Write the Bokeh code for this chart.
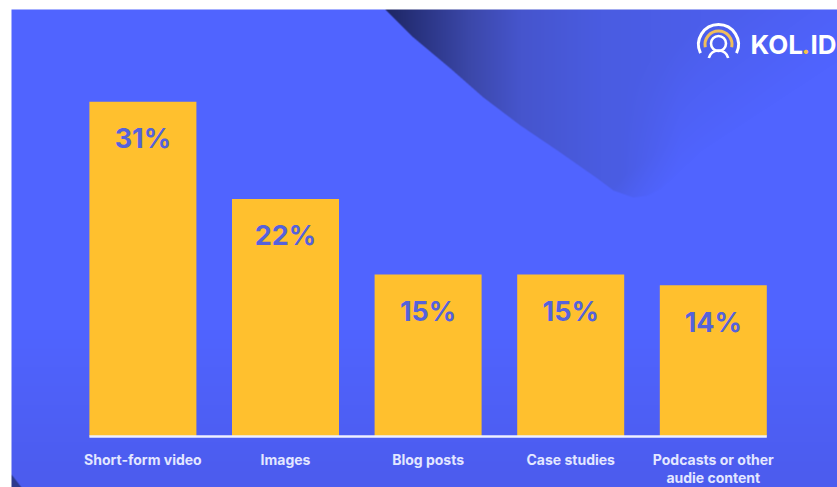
import numpy as np
from bokeh.core.properties import value
from bokeh.embed import file_html
from bokeh.models import ColumnDataSource, Range1d
from bokeh.plotting import figure
from bokeh.resources import INLINE

categories = ["Short-form video", "Images", "Blog posts", "Case studies", "Podcasts or other\naudie content"]
shares = [31, 22, 15, 15, 14]
share_labels = ["31%", "22%", "15%", "15%", "14%"]

W, H = 837, 487
BAR_BLUE = (80, 100, 255)
YELLOW = "#FFC02E"
LABEL = "#E3E7FF"
VALUE_TEXT = "#5562DC"
FONT = value("Inter")

# Layout in pixels; the bar scale converts shares to the same frame.
first_center, spacing = 142.4, 142.6
bar_width = 107 / spacing
baseline_y, px_per_point = 436, 10.8

p = figure(
    width=W, height=H, output_backend="svg", toolbar_location=None,
    x_range=Range1d(-first_center / spacing, (W - first_center) / spacing),
    y_range=Range1d(-(H - baseline_y) / px_per_point, baseline_y / px_per_point),
    min_border=0, outline_line_color=None, background_fill_color="white",
    border_fill_color="white", x_axis_type=None, y_axis_type=None,
)
p.grid.visible = False
p.extra_x_ranges["px"] = Range1d(0, W)
p.extra_y_ranges["px"] = Range1d(H, 0)
p.extra_y_ranges["up"] = Range1d(0, H)
PX = dict(x_range_name="px", y_range_name="px")


def polygon_mask(xs, ys, px, py):
    """Boolean inside test for a closed polygon, evaluated on a pixel grid."""
    inside = np.zeros(px.shape, dtype=bool)
    n = len(xs)
    for i in range(n):
        x0, y0, x1, y1 = xs[i], ys[i], xs[(i + 1) % n], ys[(i + 1) % n]
        crosses = (y0 > py) != (y1 > py)
        with np.errstate(divide="ignore", invalid="ignore"):
            at = x0 + (py - y0) * (x1 - x0) / (y1 - y0)
        inside ^= crosses & (px < at)
    return inside


# Backdrop panel: flat blue with a dark swoosh fading out toward the right.
left, top = 11, 9
ss = 3
gx, gy = np.meshgrid((np.arange((W - left) * ss) + 0.5) / ss + left,
                     (np.arange((H - top) * ss) + 0.5) / ss + top)
swoosh_x = [385, 413, 450, 483, 520, 557, 597, 613, 633, 647, 660, 700, 837, 837]
swoosh_y = [9, 37, 68, 97, 125, 150, 178, 190, 197, 195, 188, 150, 60, 9]
mask = polygon_mask(swoosh_x, swoosh_y, gx, gy)
stops_x = [385, 420, 470, 520, 600, 700, 837]
stops = [(30, 38, 100), (42, 52, 130), (60, 72, 170), (70, 85, 205),
         (74, 92, 225), (76, 94, 235), (76, 94, 238)]
# Distance from the swoosh's right flank drives its fade into the panel colour;
# the fade widens past the tip so that the flank has no visible edge.
flank = ((655 - gx) * 132 + (192 - gy) * 182) / 225
near_tip = np.clip(0.35 + flank / 50, 0, 1)
past_tip = np.clip(flank / 110, 0, 1)
blend = np.clip((gx - 620) / 60, 0, 1)
fade = near_tip * (1 - blend) + past_tip * blend
rgb = np.zeros(gx.shape + (3,))
shade = 1 - np.clip((gy - 330) / 150, 0, 1)
for c in range(3):
    low = (76, 92, 238)[c]
    base = low + (BAR_BLUE[c] - low) * shade
    ramp = np.interp(gx, stops_x, [s[c] for s in stops])
    rgb[..., c] = np.where(mask, base + (ramp - base) * fade, base)
corner = polygon_mask([11, 21, 11], [474, 487, 487], gx, gy)
for c in range(3):
    rgb[..., c] = np.where(corner, (44, 58, 140)[c], rgb[..., c])
h, w = gx.shape
small = rgb.reshape(h // ss, ss, w // ss, ss, 3).mean(axis=(1, 3))
rgba = np.zeros(small.shape[:2] + (4,), dtype=np.uint8)
rgba[..., :3] = small.astype(np.uint8)
rgba[..., 3] = 255
panel = rgba[::-1].copy().view(np.uint32).reshape(rgba.shape[:2])
p.image_rgba(image=[panel], x=left, y=0, dw=W - left, dh=H - top, x_range_name="px", y_range_name="up")

# Bars and their value labels
src = ColumnDataSource(dict(
    idx=list(range(len(categories))), share=shares, label=share_labels, cat=categories,
))
p.vbar(x="idx", top="share", bottom=0, width=bar_width, source=src, fill_color=YELLOW, line_color=None)
p.text(x="idx", y="share", text="label", source=src, y_offset=37, text_align="center",
       text_baseline="middle", text_font=FONT, text_font_style="bold", text_font_size="27px",
       text_color=VALUE_TEXT)

# Baseline and category labels
p.line(x=[-0.375, len(categories) - 1 + 0.375], y=[0, 0], line_color="#EEF0FF", line_width=2.5)
p.text(x="idx", y=0, text="cat", source=src, y_offset=14, text_align="center", text_baseline="top",
       text_font=FONT, text_font_style="bold", text_font_size="14px", text_color=LABEL,
       text_line_height=1.08)

# Brand mark
cx, cy = 718, 44
p.arc(x=[cx], y=[cy], radius=dict(value=20, units="screen"), start_angle=-0.45, end_angle=np.pi + 0.45,
      direction="anticlock", line_color="white", line_width=3, **PX)
p.arc(x=[cx], y=[cy], radius=dict(value=13.5, units="screen"), start_angle=-0.2, end_angle=np.pi + 0.2,
      direction="anticlock", line_color="#F0BE5A", line_width=3, **PX)
p.circle(x=[cx], y=[cy - 1], radius=dict(value=7.5, units="screen"), fill_color=None,
         line_color="white", line_width=2.6, **PX)
p.arc(x=[cx], y=[cy + 16], radius=dict(value=10, units="screen"), start_angle=0.25, end_angle=np.pi - 0.25,
      direction="anticlock", line_color="white", line_width=2.6, **PX)
brand = dict(text_baseline="middle", text_font=FONT, text_font_style="bold", text_font_size="26px")
p.text(x=[750], y=[44], text=["KOL"], text_color="white", **brand, **PX)
p.text(x=[801], y=[44], text=["."], text_color="#F5C242", **brand, **PX)
p.text(x=[810], y=[44], text=["ID"], text_color="white", **brand, **PX)

open("out.html", "w").write(file_html(p, INLINE))
